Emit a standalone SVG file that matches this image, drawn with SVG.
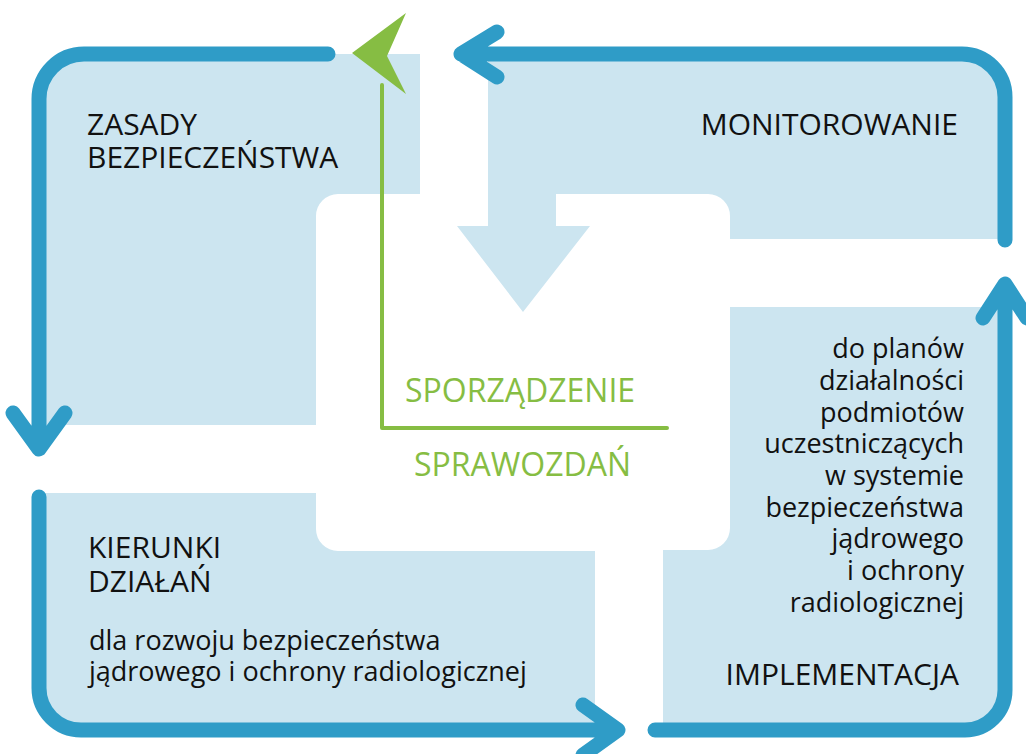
<svg xmlns="http://www.w3.org/2000/svg" width="1026" height="754" viewBox="0 0 1026 754">
<style>
.fill{fill:#cce5f0;stroke:none}
.flow{fill:none;stroke:#2f9cc7;stroke-width:15;stroke-linecap:round;stroke-linejoin:round}
.green{fill:none;stroke:#86bd43;stroke-width:4;stroke-linecap:round;stroke-linejoin:round}
.head{font-family:"Open Sans","Noto Sans",sans-serif;font-size:30px;fill:#111}
.body{font-family:"Open Sans","Noto Sans",sans-serif;font-size:27px;font-weight:500;fill:#111}
.gtext{font-family:"Open Sans","Noto Sans",sans-serif;font-size:32px;fill:#86bd43}
</style>
<rect width="1026" height="754" fill="#ffffff"/>
<g id="zasady">
<path class="fill" d="M39 440V99A45 45 0 0 1 84 54H420V194H338A22 22 0 0 0 316 216V425H39Z"/>
<text class="head" x="87" y="135">ZASADY</text>
<text class="head" x="87" y="168">BEZPIECZEŃSTWA</text>
</g>
<g id="monitorowanie">
<path class="fill" d="M488 54H962A43 43 0 0 1 1005 97V239H730V216A22 22 0 0 0 708 194H556V226H590L523 312L457 226H488Z"/>
<text class="head" x="958" y="135" text-anchor="end">MONITOROWANIE</text>
</g>
<g id="implementacja">
<path class="fill" d="M730 307H1005V690A40 40 0 0 1 965 730H663V550H708A22 22 0 0 0 730 528Z"/>
<g class="body" text-anchor="end">
<text x="964" y="358">do planów</text>
<text x="964" y="390">działalności</text>
<text x="964" y="422">podmiotów</text>
<text x="964" y="453">uczestniczących</text>
<text x="964" y="485">w systemie</text>
<text x="964" y="517">bezpieczeństwa</text>
<text x="964" y="548">jądrowego</text>
<text x="964" y="580">i ochrony</text>
<text x="964" y="612">radiologicznej</text>
</g>
<text class="head" x="959" y="685" text-anchor="end">IMPLEMENTACJA</text>
</g>
<g id="kierunki">
<path class="fill" d="M39 493H316V529A22 22 0 0 0 338 551H595V730H81A42 42 0 0 1 39 688Z"/>
<text class="head" x="88" y="558">KIERUNKI</text>
<text class="head" x="88" y="592">DZIAŁAŃ</text>
<text class="body" x="89" y="650">dla rozwoju bezpieczeństwa</text>
<text class="body" x="89" y="681">jądrowego i ochrony radiologicznej</text>
</g>
<g id="sprawozdania">
<text class="gtext" x="405" y="402">SPORZĄDZENIE</text>
<text class="gtext" x="414" y="476">SPRAWOZDAŃ</text>
</g>
<g id="connectors">
<path class="flow" d="M328 54H84A45 45 0 0 0 39 99V448M13 413L39 449L65 413"/>
<path class="flow" d="M1005 240V97A43 43 0 0 0 962 54H461M497 32L461 54L497 77"/>
<path class="flow" d="M655 730H965A40 40 0 0 0 1005 690V285M983 318L1005 284L1027 318"/>
<path class="flow" d="M39 497V688A42 42 0 0 0 81 730H616M583 705L618 730L583 755"/>
<path class="green" d="M382 85V428H667"/>
<polygon points="352,53 406,13 387,56 406,94" fill="#86bd43"/>
</g>
</svg>
